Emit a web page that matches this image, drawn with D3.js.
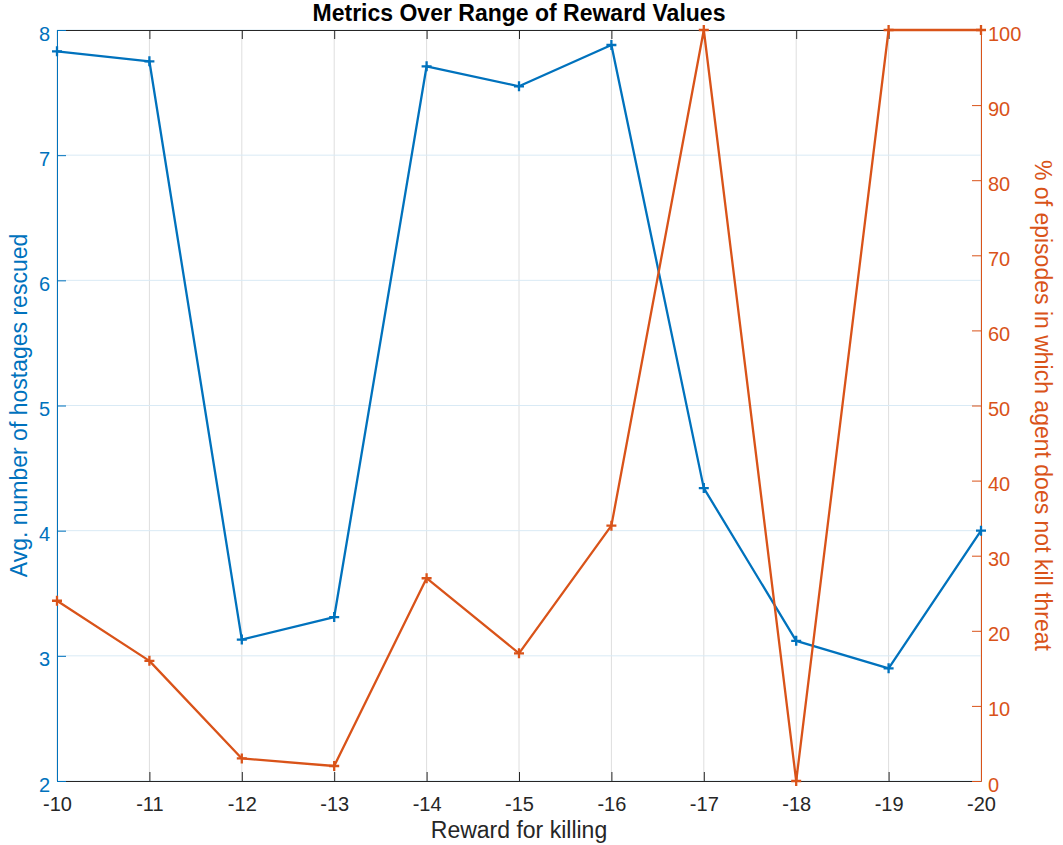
<!DOCTYPE html>
<html>
<head>
<meta charset="utf-8">
<script src="https://cdn.jsdelivr.net/npm/d3@7"></script>
<style>
  body { margin: 0; background: #fff; }
  svg { font-family: "Liberation Sans", Arial, Helvetica, sans-serif; }
</style>
</head>
<body>
<div id="graph"></div>
<script>
// reward values along x (axis runs -10 -> -20)
var rewards = [-10, -11, -12, -13, -14, -15, -16, -17, -18, -19, -20];
// left axis: avg. number of hostages rescued
var rescued = [7.83, 7.75, 3.13, 3.31, 7.71, 7.55, 7.88, 4.34, 3.12, 2.90, 4.00];
// right axis: % of episodes where agent does not kill threat
var noKill = [24, 16, 3, 2, 27, 17, 34, 100, 0, 100, 100];

var leftTicks = [2, 3, 4, 5, 6, 7, 8];
var rightTicks = [0, 10, 20, 30, 40, 50, 60, 70, 80, 90, 100];

var blue = "#0072BD",
    orange = "#D95319",
    dark = "#262626";

var true_width = 1063,
    true_height = 845,
    margin = {top: 30, bottom: 64, left: 57, right: 82},
    width = true_width - margin.left - margin.right,
    height = true_height - margin.top - margin.bottom;

var x = d3.scaleLinear().domain([-10, -20]).range([0, width]);
var yL = d3.scaleLinear().domain([2, 8]).range([height, 0]);
var yR = d3.scaleLinear().domain([0, 100]).range([height, 0]);

// plain hyphen minus like matlab, not the unicode one
function plain(d) { return String(d); }

var svg = d3.select("#graph").append("svg")
    .attr("width", true_width)
    .attr("height", true_height);

var g = svg.append("g")
    .attr("transform", "translate(" + margin.left + "," + margin.top + ")");

// grid
g.append("g").selectAll("line").data(rewards).enter().append("line")
    .attr("x1", function(d) { return x(d); })
    .attr("x2", function(d) { return x(d); })
    .attr("y1", 0).attr("y2", height)
    .attr("stroke", "#dedede").attr("stroke-width", 1);
g.append("g").selectAll("line").data(leftTicks).enter().append("line")
    .attr("x1", 0).attr("x2", width)
    .attr("y1", function(d) { return yL(d); })
    .attr("y2", function(d) { return yL(d); })
    .attr("stroke", "#d9eaf5").attr("stroke-width", 1);

// top border with inward ticks
g.append("g")
    .call(d3.axisTop(x).tickValues(rewards).tickSizeInner(-9).tickSizeOuter(0).tickFormat(""))
    .call(function(s) { s.selectAll("path, line").attr("stroke", dark); });

// bottom axis
var xAxis = g.append("g")
    .attr("transform", "translate(0," + height + ")")
    .call(d3.axisBottom(x).tickValues(rewards).tickSizeInner(-9).tickSizeOuter(0)
        .tickPadding(16).tickFormat(plain));
xAxis.selectAll("path, line").attr("stroke", dark);
xAxis.selectAll("text").attr("fill", dark).attr("font-size", 20).attr("font-family", null);

// left axis
var leftAxis = g.append("g")
    .call(d3.axisLeft(yL).tickValues(leftTicks).tickSizeInner(-9).tickSizeOuter(0)
        .tickPadding(7).tickFormat(plain));
leftAxis.selectAll("path, line").attr("stroke", blue);
leftAxis.selectAll("text").attr("fill", blue).attr("font-size", 20).attr("font-family", null)
    .attr("dy", "0.5em");

// right axis
var rightAxis = g.append("g")
    .attr("transform", "translate(" + width + ",0)")
    .call(d3.axisRight(yR).tickValues(rightTicks).tickSizeInner(-9).tickSizeOuter(0)
        .tickPadding(7).tickFormat(plain));
rightAxis.selectAll("path, line").attr("stroke", orange);
rightAxis.selectAll("text").attr("fill", orange).attr("font-size", 20).attr("font-family", null)
    .attr("dy", "0.5em");

// lines + markers
function drawSeries(values, yScale, color) {
    var pts = rewards.map(function(r, i) { return [x(r), yScale(values[i])]; });
    g.append("path")
        .attr("d", d3.line()(pts))
        .attr("fill", "none")
        .attr("stroke", color)
        .attr("stroke-width", 2.3)
        .attr("stroke-linejoin", "round");
    g.append("g").selectAll("path").data(pts).enter().append("path")
        .attr("d", function(p) {
            return "M" + (p[0] - 5) + "," + p[1] + "H" + (p[0] + 5) +
                   "M" + p[0] + "," + (p[1] - 5) + "V" + (p[1] + 5);
        })
        .attr("stroke", color)
        .attr("stroke-width", 2.3);
}
drawSeries(rescued, yL, blue);
drawSeries(noKill, yR, orange);

// title and labels
svg.append("text")
    .attr("x", margin.left + width / 2)
    .attr("y", 21)
    .attr("text-anchor", "middle")
    .attr("font-size", 23)
    .attr("font-weight", "bold")
    .attr("fill", "#000")
    .text("Metrics Over Range of Reward Values");

svg.append("text")
    .attr("x", margin.left + width / 2)
    .attr("y", 838)
    .attr("text-anchor", "middle")
    .attr("font-size", 23)
    .attr("fill", dark)
    .text("Reward for killing");

svg.append("text")
    .attr("transform", "translate(27," + (margin.top + height / 2) + ") rotate(-90)")
    .attr("text-anchor", "middle")
    .attr("font-size", 23)
    .attr("fill", blue)
    .text("Avg. number of hostages rescued");

svg.append("text")
    .attr("transform", "translate(1035," + (margin.top + height / 2) + ") rotate(90)")
    .attr("text-anchor", "middle")
    .attr("font-size", 23)
    .attr("fill", orange)
    .text("% of episodes in which agent does not kill threat");
</script>
</body>
</html>
